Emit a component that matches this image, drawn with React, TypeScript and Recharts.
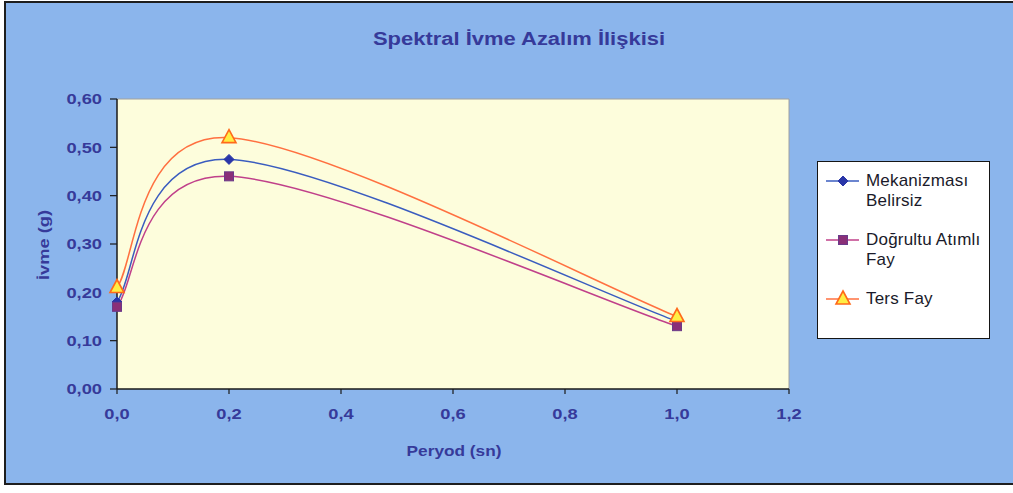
import React from 'react';
import { LineChart, Line, XAxis, YAxis, CartesianGrid, Legend, Label, ReferenceLine } from 'recharts';

const periods = [0, 0.2, 1.0];
const mekanizmasiBelirsiz = [0.18, 0.475, 0.14];
const dogrultuAtimliFay = [0.17, 0.44, 0.13];
const tersFay = [0.21, 0.52, 0.15];
const xTicks = [0, 0.2, 0.4, 0.6, 0.8, 1.0, 1.2];
const yTicks = [0, 0.1, 0.2, 0.3, 0.4, 0.5, 0.6];
const seriesNames = ['Mekanizması Belirsiz', 'Doğrultu Atımlı Fay', 'Ters Fay'];
const chartTitle = 'Spektral İvme Azalım İlişkisi';
const xTitle = 'Peryod (sn)';
const yTitle = 'İvme (g)';

const data = periods.map((p, i) => ({
  period: p,
  s1: mekanizmasiBelirsiz[i],
  s2: dogrultuAtimliFay[i],
  s3: tersFay[i],
}));

const TEXT = '#363a9a';
const FONT = 'Arial, "Liberation Sans", sans-serif';

// Excel-like smoothing (Catmull-Rom through the points)
const excelSmooth: any = (context: any) => {
  let pts: number[][] = [];
  return {
    areaStart() {},
    areaEnd() {},
    lineStart() { pts = []; },
    lineEnd() {
      const n = pts.length;
      if (!n) return;
      context.moveTo(pts[0][0], pts[0][1]);
      for (let i = 0; i < n - 1; i++) {
        const p0 = pts[i - 1] || pts[i];
        const p1 = pts[i];
        const p2 = pts[i + 1];
        const p3 = pts[i + 2] || pts[i + 1];
        context.bezierCurveTo(
          p1[0] + (p2[0] - p0[0]) / 6, p1[1] + (p2[1] - p0[1]) / 6,
          p2[0] - (p3[0] - p1[0]) / 6, p2[1] - (p3[1] - p1[1]) / 6,
          p2[0], p2[1]
        );
      }
    },
    point(x: number, y: number) { pts.push([+x, +y]); },
  };
};

const Diamond = (props: any) => {
  const { cx, cy, index } = props;
  if (cx == null || cy == null) return null;
  const r = 5;
  return <polygon key={`d${index}`} points={`${cx},${cy - r} ${cx + r},${cy} ${cx},${cy + r} ${cx - r},${cy}`} fill="#2a36a8" stroke="#2a36a8" />;
};
const Square = (props: any) => {
  const { cx, cy, index } = props;
  if (cx == null || cy == null) return null;
  return <rect key={`s${index}`} x={cx - 4.5} y={cy - 4.5} width={9} height={9} fill="#8a2f78" stroke="#6a3a8a" strokeWidth={1} />;
};
const Triangle = (props: any) => {
  const { cx, cy, index } = props;
  if (cx == null || cy == null) return null;
  return <polygon key={`t${index}`} points={`${cx},${cy - 8} ${cx + 7},${cy + 5} ${cx - 7},${cy + 5}`} fill="#ffee44" stroke="#ff6a1a" strokeWidth={1.6} />;
};

const series = [
  { key: 's1', name: seriesNames[0], stroke: '#3a5cbf', Marker: Diamond },
  { key: 's2', name: seriesNames[1], stroke: '#c0408a', Marker: Square },
  { key: 's3', name: seriesNames[2], stroke: '#ff7040', Marker: Triangle },
];

const XTick = (props: any) => {
  const { x, y, payload } = props;
  return (
    <text transform={`translate(${x},${y}) scale(1.22,1)`} textAnchor="middle" dy="0.71em"
      fill={TEXT} fontSize={15} fontWeight="bold" fontFamily={FONT}>
      {Number(payload.value).toFixed(1).replace('.', ',')}
    </text>
  );
};
const YTick = (props: any) => {
  const { x, y, payload } = props;
  return (
    <text transform={`translate(${x},${y}) scale(1.22,1)`} textAnchor="end" dy="0.35em"
      fill={TEXT} fontSize={15} fontWeight="bold" fontFamily={FONT}>
      {Number(payload.value).toFixed(2).replace('.', ',')}
    </text>
  );
};

const renderLegend = () => (
  <div style={{ width: 173, height: 178, boxSizing: 'border-box', background: '#ffffff', border: '1.5px solid #151515', paddingTop: 9, fontFamily: FONT }}>
    {series.map((s) => (
      <div key={s.key} style={{ display: 'flex', alignItems: 'flex-start', marginBottom: 19 }}>
        <svg width={42} height={20} style={{ flex: 'none', marginLeft: 6 }}>
          <line x1={2} y1={10} x2={35} y2={10} stroke={s.stroke} strokeWidth={1.5} />
          <s.Marker cx={19} cy={10} index={0} />
        </svg>
        <div style={{ width: 124, fontSize: 17, lineHeight: '20px', color: '#1a1a2a', letterSpacing: 0.2 }}>{s.name}</div>
      </div>
    ))}
  </div>
);

export default function App() {
  return (
    <div style={{ position: 'absolute', left: 0, top: 0, width: 1013, height: 493, background: '#ffffff', overflow: 'hidden' }}>
      <div style={{ position: 'absolute', left: 4, top: 1, width: 1040, height: 484, boxSizing: 'border-box', background: '#8bb5ec', border: '2px solid #1e1e1e' }} />
      <div style={{ position: 'absolute', left: 0, top: 29, width: 1038, textAlign: 'center', fontFamily: FONT, fontWeight: 'bold', fontSize: 18, color: TEXT, transform: 'scaleX(1.22)' }}>
        {chartTitle}
      </div>
      <div style={{ position: 'absolute', left: 0, top: 0 }}>
        <LineChart width={1013} height={493} data={data} margin={{ top: 99, right: 224, left: 0, bottom: 0 }}>
          <CartesianGrid fill="#fdfddc" stroke="none" horizontal={false} vertical={false} />
          <ReferenceLine y={0.6} stroke="#a0a0a0" strokeWidth={1} />
          <ReferenceLine x={1.2} stroke="#a0a0a0" strokeWidth={1} />
          <XAxis dataKey="period" type="number" domain={[0, 1.2]} ticks={xTicks} height={104}
            tickSize={5} tickMargin={14} tick={<XTick />} axisLine={{ stroke: '#1a1a1a', strokeWidth: 1.5 }}
            tickLine={{ stroke: '#1a1a1a', strokeWidth: 1.2 }} interval={0}>
            <Label content={() => (
              <text transform="translate(454,456) scale(1.15,1)" textAnchor="middle" fill={TEXT} fontSize={15} fontWeight="bold" fontFamily={FONT}>{xTitle}</text>
            )} />
          </XAxis>
          <YAxis type="number" domain={[0, 0.6]} ticks={yTicks} width={117} tickSize={7} tickMargin={8}
            tick={<YTick />} axisLine={{ stroke: '#1a1a1a', strokeWidth: 1.5 }}
            tickLine={{ stroke: '#1a1a1a', strokeWidth: 1.2 }} interval={0}>
            <Label content={() => (
              <text transform="translate(49,245) rotate(-90) scale(1.22,1)" textAnchor="middle" fill={TEXT} fontSize={15} fontWeight="bold" fontFamily={FONT}>{yTitle}</text>
            )} />
          </YAxis>
          <Legend layout="vertical" align="center" verticalAlign="middle" content={renderLegend}
            wrapperStyle={{ position: 'absolute', left: 817, top: 161, width: 173, height: 178 }} />
          {series.map((s) => (
            <Line key={s.key} dataKey={s.key} name={s.name} type={excelSmooth} stroke={s.stroke} strokeWidth={1.5}
              dot={<s.Marker />} activeDot={false} isAnimationActive={false} />
          ))}
        </LineChart>
      </div>
    </div>
  );
}
